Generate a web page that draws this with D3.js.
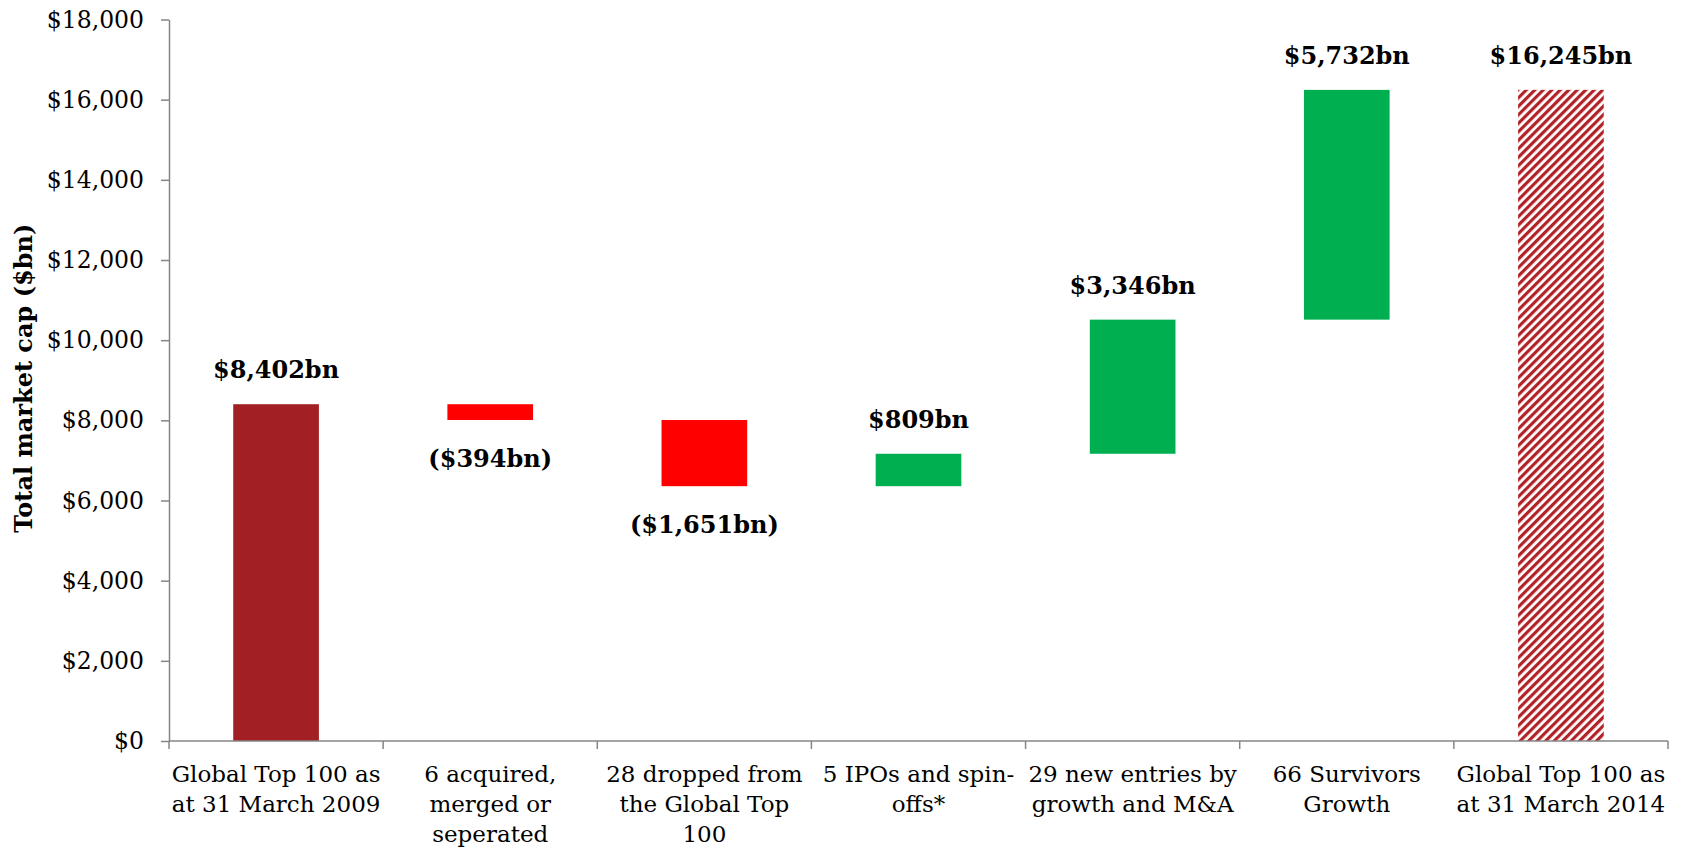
<!DOCTYPE html>
<meta charset="utf-8">
<style>

body { margin: 0; background: #fff; }

svg text {
  font-family: Georgia, "DejaVu Serif", serif;
  fill: #000;
}

.axis path,
.axis line {
  fill: none;
  stroke: #868686;
  stroke-width: 1.5px;
}

.axis text {
  font-size: 23px;
}

.y.axis text {
  font-size: 23.5px;
}

.value-label {
  font-size: 24px;
  font-weight: bold;
}

</style>

<body>

<script src="https://d3js.org/d3.v7.min.js"></script>

<script>

var categories = [
  ["Global Top 100 as", "at 31 March 2009"],
  ["6 acquired,", "merged or", "seperated"],
  ["28 dropped from", "the Global Top", "100"],
  ["5 IPOs and spin-", "offs*"],
  ["29 new entries by", "growth and M&A"],
  ["66 Survivors", "Growth"],
  ["Global Top 100 as", "at 31 March 2014"]
]

// $bn, deltas for the middle steps, totals at both ends
var values = [8402, -394, -1651, 809, 3346, 5732, 16245]
var kinds = ["start", "delta", "delta", "delta", "delta", "delta", "end"]

var yTicks = [0, 2000, 4000, 6000, 8000, 10000, 12000, 14000, 16000, 18000]

var width = 1682
var height = 847

var margin = {top: 19.5, right: 14, bottom: 106, left: 169},
    inner_width = width - margin.left - margin.right,
    inner_height = height - margin.top - margin.bottom

var svg = d3.select("body").append("svg")
    .attr("width", width)
    .attr("height", height)

// hatch for the closing total
var pattern = svg.append("defs").append("pattern")
    .attr("id", "hatch")
    .attr("patternUnits", "userSpaceOnUse")
    .attr("width", 6)
    .attr("height", 6)
    .attr("patternTransform", "rotate(45)")
pattern.append("rect")
    .attr("width", 6)
    .attr("height", 6)
    .attr("fill", "#fff")
pattern.append("rect")
    .attr("width", 3.2)
    .attr("height", 6)
    .attr("fill", "#b02328")

// waterfall steps
var running = 0
var steps = values.map(function(v, i) {
  var d = {i: i, value: v, kind: kinds[i]}
  if (d.kind == "delta") {
    d.y0 = running
    d.y1 = running + v
    running = d.y1
  } else {
    d.y0 = 0
    d.y1 = v
    running = v
  }
  return d
})

var x = d3.scaleBand()
    .domain(d3.range(categories.length))
    .range([0, inner_width])
    .paddingInner(0.6)
    .paddingOuter(0.3)

var xb = d3.scaleLinear()
    .domain([0, categories.length])
    .range([0, inner_width])

var y = d3.scaleLinear()
    .domain([0, 18000])
    .range([inner_height, 0])

var g = svg.append("g")
    .attr("transform", "translate(" + margin.left + "," + margin.top + ")")

function fill(d) {
  if (d.kind == "start") return "#a21f23"
  if (d.kind == "end") return "url(#hatch)"
  return d.value < 0 ? "#ff0000" : "#00b050"
}

g.selectAll(".bar")
  .data(steps)
  .enter().append("rect")
    .attr("class", "bar")
    .attr("x", function(d) { return x(d.i) })
    .attr("width", x.bandwidth())
    .attr("y", function(d) { return y(Math.max(d.y0, d.y1)) })
    .attr("height", function(d) { return Math.abs(y(d.y0) - y(d.y1)) })
    .attr("fill", fill)

// axes
var yAxis = d3.axisLeft(y)
    .tickValues(yTicks)
    .tickSize(8)
    .tickPadding(17)
    .tickSizeOuter(0)
    .tickFormat(function(d) { return "$" + d3.format(",")(d) })

g.append("g")
    .attr("class", "y axis")
    .call(yAxis)

var xa = g.append("g")
    .attr("class", "x axis")
    .attr("transform", "translate(0," + inner_height + ")")
xa.append("line")
    .attr("x1", 0)
    .attr("x2", inner_width)
xa.selectAll(".sep")
  .data(d3.range(categories.length + 1))
  .enter().append("line")
    .attr("class", "sep")
    .attr("x1", function(d) { return xb(d) })
    .attr("x2", function(d) { return xb(d) })
    .attr("y1", 0)
    .attr("y2", 8)

var cat = xa.selectAll(".cat")
  .data(categories)
  .enter().append("text")
    .attr("class", "cat")
    .attr("text-anchor", "middle")
    .attr("transform", function(d, i) { return "translate(" + (x(i) + x.bandwidth() / 2) + ",41)" })
cat.selectAll("tspan")
  .data(function(d) { return d })
  .enter().append("tspan")
    .attr("x", 0)
    .attr("y", function(d, i) { return i * 30 })
    .text(function(d) { return d })

// value labels
function label(d) {
  var s = "$" + d3.format(",")(Math.abs(d.value)) + "bn"
  return d.value < 0 ? "(" + s + ")" : s
}

g.selectAll(".value-label")
  .data(steps)
  .enter().append("text")
    .attr("class", "value-label")
    .attr("text-anchor", "middle")
    .attr("x", function(d) { return x(d.i) + x.bandwidth() / 2 })
    .attr("y", function(d) {
      if (d.value < 0) return y(Math.min(d.y0, d.y1)) + 47
      return y(Math.max(d.y0, d.y1)) - 26
    })
    .text(label)

// axis title
svg.append("text")
    .attr("transform", "translate(32," + (margin.top + inner_height / 2 - 2) + ") rotate(-90)")
    .attr("text-anchor", "middle")
    .style("font-size", "24px")
    .style("font-weight", "bold")
    .text("Total market cap ($bn)")

</script>
